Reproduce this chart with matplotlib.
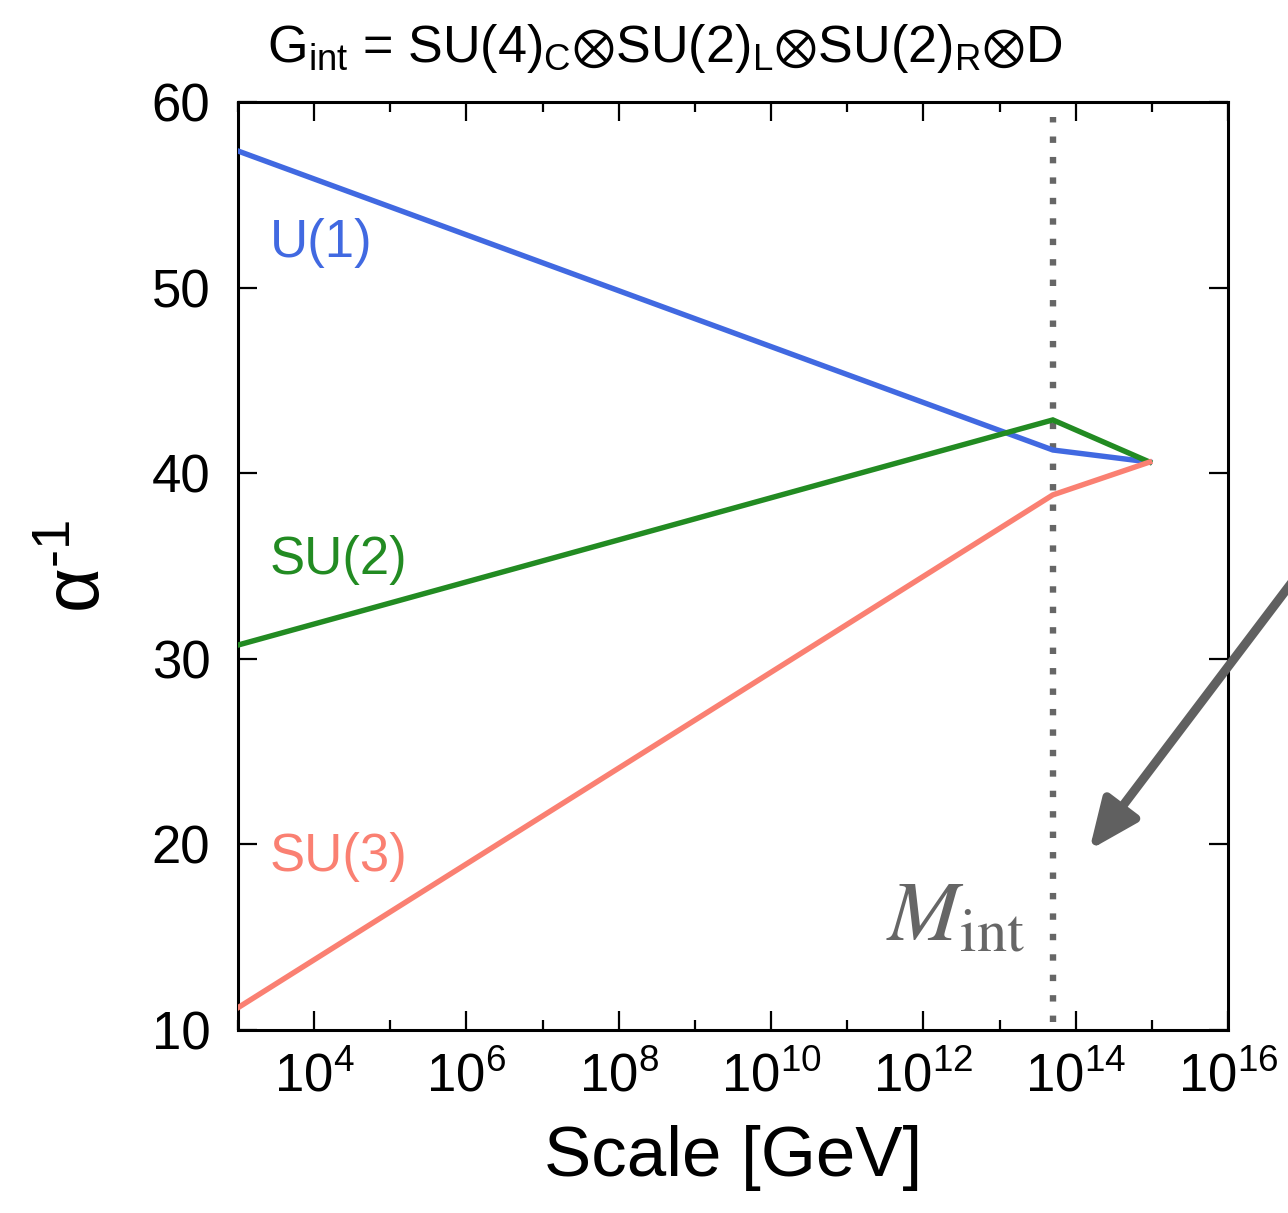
import numpy as np
import matplotlib
matplotlib.use("Agg")
import matplotlib.pyplot as plt
from matplotlib.ticker import FixedLocator, LogFormatterSciNotation, NullFormatter

plt.rcParams["font.family"] = ["Liberation Sans", "DejaVu Sans"]
plt.rcParams["mathtext.fontset"] = "custom"
plt.rcParams["mathtext.rm"] = "Liberation Sans"
plt.rcParams["mathtext.it"] = "Liberation Sans:italic"
plt.rcParams["mathtext.fallback"] = "stixsans"

# --- data (log10 of scale in GeV, inverse couplings) ---
scale_log = [3.0, 13.7, 14.97]
u1_inv = [57.36, 41.25, 40.6]
su2_inv = [30.74, 42.87, 40.6]
su3_inv = [11.2, 38.83, 40.6]
m_int_log = 13.7

series = [
    ("U(1)", u1_inv, "#4169E1", 52.4),
    ("SU(2)", su2_inv, "#228B22", 35.3),
    ("SU(3)", su3_inv, "#FA8072", 19.3),
]

fig = plt.figure(figsize=(12.88, 12.13), dpi=100)
ax = fig.add_axes([0.1848, 0.1509, 0.7686, 0.7650])

x = 10.0 ** np.array(scale_log)
for name, vals, color, label_y in series:
    ax.plot(x, vals, color=color, lw=3.9, solid_joinstyle="miter", zorder=3)
    ax.text(10 ** 3.42, label_y, name, color=color, fontsize=38,
            ha="left", va="center")

# M_int marker
ax.vlines(10 ** m_int_log, 10.45, 59.2, colors="#666666", lw=4.6,
          linestyles=(0, (1, 2.2)), zorder=2)
ax.text(10 ** 13.34, 14.85, r"$M_{\mathrm{int}}$", color="#666666",
        fontsize=62, ha="right", va="baseline", math_fontfamily="stix")

# arrow coming in from the right
ax.annotate("", xy=(10 ** 14.18, 19.7), xytext=(10 ** 17.5, 37.7),
            xycoords="data", textcoords="data", annotation_clip=False,
            arrowprops=dict(arrowstyle="-|>,head_length=3.0,head_width=1.3",
                            color="#606060", lw=6.5, shrinkA=0, shrinkB=0))

ax.set_xscale("log")
ax.set_xlim(1e3, 1e16)
ax.set_ylim(10, 60)

ax.xaxis.set_major_locator(FixedLocator([10.0 ** k for k in range(4, 17, 2)]))
ax.xaxis.set_minor_locator(FixedLocator([10.0 ** k for k in range(3, 16, 2)]))
ax.xaxis.set_major_formatter(LogFormatterSciNotation())
ax.xaxis.set_minor_formatter(NullFormatter())
ax.set_yticks([10, 20, 30, 40, 50, 60])

ax.tick_params(which="both", direction="in", top=True, right=True,
               width=1.6, labelsize=38)
ax.tick_params(which="major", length=14)
ax.tick_params(which="minor", length=7)
ax.tick_params(axis="y", pad=20)
ax.tick_params(axis="x", pad=16)
for sp in ax.spines.values():
    sp.set_linewidth(2.2)

ax.set_xlabel("Scale [GeV]", fontsize=51, labelpad=16)
ax.set_ylabel(r"α$^{\mathrm{\text{-}1}}$", fontsize=56, labelpad=26)

ox = r"${\otimes}$"
fig.text(0.516, 0.949,
         r"G$_{\mathrm{int}}$ = SU(4)$_{\mathrm{C}}$" + ox + r"SU(2)$_{\mathrm{L}}$" + ox
         + r"SU(2)$_{\mathrm{R}}$" + ox + "D",
         fontsize=37.5, ha="center", va="baseline")

fig.savefig("out.png", dpi=100)
